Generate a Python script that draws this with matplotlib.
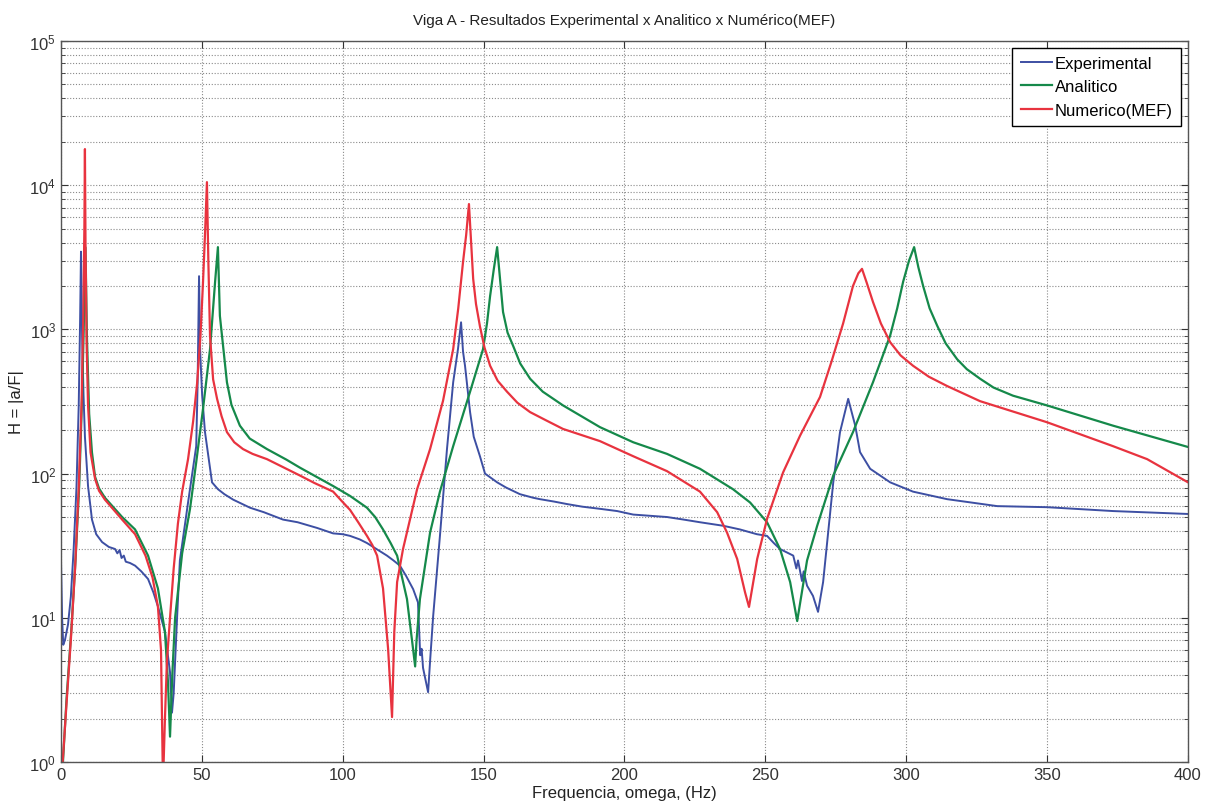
import matplotlib
matplotlib.use("Agg")
import matplotlib.pyplot as plt
from matplotlib.ticker import LogLocator, MultipleLocator, NullFormatter

plt.rcParams['font.family'] = ['Liberation Sans', 'DejaVu Sans']

# Experimental (measured FRF)
exp_f = [0.0, 0.4, 0.8, 1.4, 2.5, 3.5, 4.5, 5.5, 6.3, 6.8, 7.1, 7.5, 8.0, 8.5, 9.6,
         11.0, 12.5, 14.6, 17.0, 19.2, 20.0, 20.8, 21.5, 22.3, 23.0, 24.5, 26.3, 28.5,
         30.9, 32.8, 34.4, 36.9, 38.7, 39.4, 40.0, 41.2, 42.2, 45.1, 48.0, 48.5, 49.0,
         49.4, 50.1, 51.1, 53.6, 55.7, 58.0, 61.1, 64.0, 67.1, 72.0, 78.8, 84.0, 90.9,
         96.6, 100.0, 102.6, 106.0, 108.6, 112.0, 115.7, 118.0, 120.3, 122.5, 125.0,
         126.7, 127.5, 128.0, 128.5, 130.3, 131.0, 132.1, 134.5, 137.0, 139.2, 140.9,
         142.0, 142.7, 143.4, 145.2, 146.5, 148.7, 150.5, 154.8, 158.0, 162.9, 167.6,
         170.0, 175.0, 179.6, 185.0, 191.3, 197.4, 203.1, 209.0, 215.1, 221.0, 226.8,
         235.0, 241.0, 247.0, 250.6, 253.0, 255.2, 257.5, 259.9, 261.0, 261.6, 263.0,
         263.6, 264.8, 266.9, 268.7, 270.5, 272.3, 274.1, 276.5, 279.4, 281.9, 283.6,
         287.2, 294.3, 302.4, 314.5, 332.3, 350.0, 373.4, 400.0]
exp_h = [25, 10, 6.5, 7, 9, 14, 30, 80, 300, 1200, 3460, 900, 350, 180, 82,
         48, 38, 33.5, 31, 30, 28, 29.5, 26, 27, 24.5, 24, 23, 21,
         18.6, 15, 12, 8, 4.2, 2.2, 3, 10, 25, 63, 155, 430, 2340,
         700, 350, 195, 87, 78, 72, 66, 62, 58, 54, 48, 46, 42,
         38.5, 38, 37, 35, 33, 30, 27, 25, 23, 19.5, 15.8,
         12.8, 5.5, 6.1, 4.5, 3.05, 5, 10.3, 37, 148, 430, 730,
         1120, 700, 560, 267, 180, 132, 100, 87, 80, 72, 68,
         66.5, 64, 61.5, 59, 57, 55, 52, 51, 50, 48, 46,
         43.5, 41, 38, 37, 33, 30, 28.5, 27, 22, 25, 18,
         21, 16.7, 14.2, 11, 17.7, 39.3, 87, 194, 330, 215, 141,
         108, 87, 75, 66.5, 59.5, 58.5, 55, 52.5]

# Analitico
ana_f = [0.7, 2.0, 3.8, 5.2, 6.5, 7.5, 8.2, 8.7, 9.2, 10.0, 11.0, 12.1, 13.5, 15.6,
         21.7, 26.3, 30.9, 34.4, 36.9, 38.0, 38.7, 39.5, 40.5, 43.0, 45.8, 48.0, 50.4,
         52.9, 54.7, 55.7, 56.4, 58.9, 60.5, 63.5, 67.0, 73.1, 80.0, 84.8, 96.6, 102.6,
         108.6, 111.5, 114.3, 117.0, 119.3, 122.8, 125.0, 125.7, 126.2, 127.4, 131.0,
         134.5, 139.2, 145.2, 149.8, 151.2, 152.3, 153.6, 154.8, 156.9, 158.5, 160.5,
         163.0, 166.5, 171.0, 178.2, 191.3, 203.1, 215.1, 226.8, 238.5, 244.6, 250.6,
         255.2, 258.8, 261.3, 264.8, 268.4, 274.1, 281.1, 288.2, 294.3, 296.8, 298.9,
         301.0, 302.8, 304.3, 306.0, 308.3, 311.0, 314.0, 318.1, 321.5, 326.2, 331.0,
         337.9, 350.0, 373.4, 400.0]
ana_h = [1.0, 2.8, 9, 26, 85, 350, 1300, 3700, 900, 260, 140, 95, 79, 68,
         50, 41, 27, 16, 8, 3.5, 1.5, 4, 10, 28, 57, 120, 280,
         730, 2140, 3720, 1240, 430, 300, 215, 175, 148, 125, 110, 82, 70,
         58, 50, 41, 33, 27, 13.5, 6, 4.6, 7, 13.5, 39,
         75, 155, 370, 730, 1100, 1700, 2600, 3720, 1320, 950, 767,
         580, 455, 370, 297, 210, 165, 137, 108, 78, 63, 46,
         30, 17.7, 9.5, 25, 43.5, 97, 194, 430, 907, 1400, 2140,
         3000, 3720, 2700, 2000, 1400, 1060, 800, 620, 530, 455, 395,
         347, 297, 215, 153]

# Numerico (MEF)
num_f = [0.6, 2.0, 3.5, 5.0, 6.3, 7.3, 7.9, 8.3, 8.5, 8.7, 9.1, 9.6, 10.5, 12.1,
         13.5, 15.6, 21.7, 26.3, 30.0, 32.5, 34.4, 35.5, 36.2, 36.9, 37.6, 38.7, 40.0,
         41.5, 43.0, 45.1, 46.9, 48.3, 49.5, 50.4, 51.2, 51.8, 52.3, 52.9, 54.0, 55.4,
         57.0, 58.9, 61.5, 64.6, 68.0, 73.1, 84.8, 90.0, 96.6, 99.5, 102.6, 105.5,
         108.6, 110.5, 112.2, 114.3, 116.1, 117.5, 118.3, 119.3, 121.4, 126.4, 131.0,
         135.6, 139.2, 141.0, 142.7, 143.8, 144.8, 146.3, 147.3, 148.7, 150.3, 152.3,
         155.0, 158.3, 162.0, 166.5, 172.0, 178.2, 191.3, 203.1, 215.1, 226.8, 232.9,
         236.4, 240.0, 242.8, 244.2, 247.1, 250.6, 256.3, 262.3, 269.4, 273.5, 277.6,
         281.1, 283.0, 284.3, 286.0, 288.2, 291.0, 294.3, 298.0, 302.4, 308.0, 314.5,
         326.2, 350.0, 373.4, 385.5, 400.0]
num_h = [1.0, 2.6, 7, 22, 80, 300, 1200, 5000, 17800, 4000, 800, 300, 140, 92,
         76, 66, 48, 38, 27, 19, 12, 6, 0.7, 2, 5, 10, 22,
         45, 75, 126, 230, 420, 900, 2100, 5000, 10500, 3000, 900, 450, 330,
         250, 194, 165, 148, 137, 126, 97, 86, 75, 65, 56, 46,
         37, 32, 27, 16, 6.1, 2.05, 8, 17.7, 30, 78, 148,
         320, 730, 1400, 2940, 4500, 7400, 2240, 1500, 1050, 750, 560,
         440, 370, 310, 267, 235, 204, 168, 132, 104, 75, 54,
         39, 25.6, 15, 11.9, 25.6, 48.5, 102, 183, 340, 600, 1100,
         2000, 2450, 2630, 2100, 1550, 1100, 815, 660, 560, 470, 405,
         318, 227, 155, 126, 87]

fig = plt.figure(figsize=(12.1, 8.12), dpi=100)
ax = fig.add_axes([0.0504, 0.0603, 0.9314, 0.888])

ax.semilogy(exp_f, exp_h, color='#3d4fa3', lw=1.4, label='Experimental')
ax.semilogy(ana_f, ana_h, color='#15894a', lw=1.6, label='Analitico')
ax.semilogy(num_f, num_h, color='#e8333f', lw=1.6, label='Numerico(MEF)')

ax.set_xlim(0, 400)
ax.set_ylim(1, 1e5)
ax.xaxis.set_major_locator(MultipleLocator(50))
ax.yaxis.set_major_locator(LogLocator(base=10, numticks=10))
ax.yaxis.set_minor_locator(LogLocator(base=10, subs=range(2, 10), numticks=20))
ax.yaxis.set_minor_formatter(NullFormatter())

grid_kw = dict(color='#8a8a8a', linestyle=(0, (1, 1.6)), linewidth=0.8)
ax.grid(True, which='major', axis='both', **grid_kw)
ax.grid(True, which='minor', axis='y', **grid_kw)

ax.tick_params(direction='in', top=True, right=True, which='both',
               labelsize=12, colors='#333333')
ax.tick_params(which='major', length=5)
ax.tick_params(which='minor', length=3)
for s in ax.spines.values():
    s.set_color('#555555')
    s.set_linewidth(1.0)

ax.set_title('Viga A - Resultados Experimental x Analitico x Numérico(MEF)',
             fontsize=11, pad=12, color='#222222')
ax.set_xlabel('Frequencia, omega, (Hz)', fontsize=12, labelpad=2, color='#222222')
ax.set_ylabel('H = |a/F|', fontsize=12, labelpad=4, color='#222222')

leg = ax.legend(loc='upper right', fontsize=12, fancybox=False, framealpha=1,
                edgecolor='black', handlelength=1.9, handletextpad=0.15,
                borderpad=0.5, labelspacing=0.5, borderaxespad=0.4)
leg.get_frame().set_linewidth(1.0)

fig.savefig('out.png', dpi=100)
